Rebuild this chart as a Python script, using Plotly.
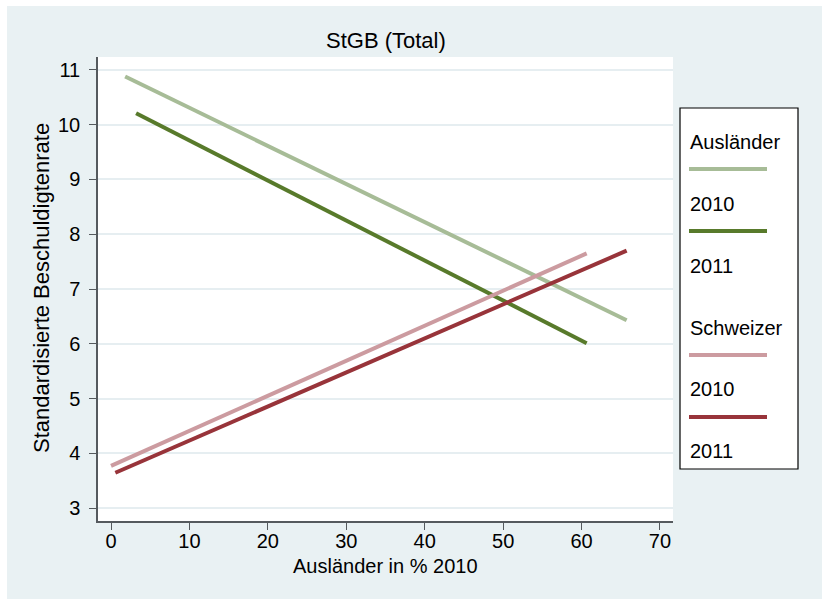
import plotly.graph_objects as go

# ---- data ----
x_label = "Ausländer in % 2010"
y_label = "Standardisierte Beschuldigtenrate"
title = "StGB (Total)"

aus_2010_x = [1.8, 65.75]
aus_2010_y = [10.88, 6.43]
aus_2011_x = [3.2, 60.65]
aus_2011_y = [10.21, 6.01]
sch_2010_x = [0.0, 60.65]
sch_2010_y = [3.77, 7.65]
sch_2011_x = [0.55, 65.75]
sch_2011_y = [3.645, 7.70]

x_ticks = [0, 10, 20, 30, 40, 50, 60, 70]
y_ticks = [3, 4, 5, 6, 7, 8, 9, 10, 11]

legend_groups = ["Ausländer", "Schweizer"]
legend_years = ["2010", "2011"]

# ---- styles ----
C_AUS10 = "#a7bc97"
C_AUS11 = "#587a2b"
C_SCH10 = "#cc9ba0"
C_SCH11 = "#98343a"
BG = "#e9f1f3"
FONT = "Liberation Sans, Arial, Helvetica, sans-serif"
FS = 20

W, H = 822, 599
L, R, T, B = 98, 673, 57, 521  # plot area in pixels


def px(x):
    return (x - L) / (R - L)


def py(y):
    return (B - y) / (B - T)


fig = go.Figure()
series = [
    (aus_2010_x, aus_2010_y, C_AUS10),
    (aus_2011_x, aus_2011_y, C_AUS11),
    (sch_2010_x, sch_2010_y, C_SCH10),
    (sch_2011_x, sch_2011_y, C_SCH11),
]
for xs, ys, c in series:
    fig.add_trace(go.Scatter(x=xs, y=ys, mode="lines",
                             line=dict(color=c, width=4),
                             showlegend=False, hoverinfo="skip"))

shapes = []
annotations = []

# white outer border strips (top and left)
shapes.append(dict(type="rect", xref="paper", yref="paper",
                   x0=px(0), x1=px(W), y0=py(6), y1=py(0),
                   fillcolor="white", line=dict(width=0), layer="above"))
shapes.append(dict(type="rect", xref="paper", yref="paper",
                   x0=px(0), x1=px(7), y0=py(H), y1=py(0),
                   fillcolor="white", line=dict(width=0), layer="above"))

# legend box
shapes.append(dict(type="rect", xref="paper", yref="paper",
                   x0=px(680), x1=px(798), y0=py(469), y1=py(108),
                   fillcolor="white", line=dict(color="black", width=1.2)))

legend_colors = {("Ausländer", "2010"): C_AUS10, ("Ausländer", "2011"): C_AUS11,
                 ("Schweizer", "2010"): C_SCH10, ("Schweizer", "2011"): C_SCH11}
group_text_y = [142, 327.5]
line_y = [[169, 231], [355, 417]]
year_text_y = [[204, 266], [389, 451]]
for gi, g in enumerate(legend_groups):
    annotations.append(dict(text=g, xref="paper", yref="paper",
                            x=px(688), y=py(group_text_y[gi]),
                            xanchor="left", yanchor="middle", showarrow=False,
                            font=dict(family=FONT, size=FS, color="black")))
    for yi, yr in enumerate(legend_years):
        shapes.append(dict(type="line", xref="paper", yref="paper",
                           x0=px(689), x1=px(767),
                           y0=py(line_y[gi][yi]), y1=py(line_y[gi][yi]),
                           line=dict(color=legend_colors[(g, yr)], width=4)))
        annotations.append(dict(text=yr, xref="paper", yref="paper",
                                x=px(688), y=py(year_text_y[gi][yi]),
                                xanchor="left", yanchor="middle", showarrow=False,
                                font=dict(family=FONT, size=FS, color="black")))

# titles
annotations.append(dict(text=title, xref="paper", yref="paper",
                        x=0.5, y=py(41), xanchor="center", yanchor="middle",
                        showarrow=False, font=dict(family=FONT, size=22, color="black")))
annotations.append(dict(text=x_label, xref="paper", yref="paper",
                        x=0.5, y=py(566), xanchor="center", yanchor="middle",
                        showarrow=False, font=dict(family=FONT, size=FS, color="black")))
annotations.append(dict(text=y_label, xref="paper", yref="paper",
                        x=px(41), y=py(288), xanchor="center", yanchor="middle",
                        textangle=-90, showarrow=False,
                        font=dict(family=FONT, size=22, color="black")))

axis_common = dict(showline=True, linecolor="#555a5e", linewidth=1.5,
                   ticks="outside", ticklen=7, tickwidth=1.2, tickcolor="#555a5e",
                   tickfont=dict(family=FONT, size=FS, color="black"),
                   zeroline=False, fixedrange=True)

fig.update_layout(
    width=W, height=H,
    margin=dict(l=L, r=W - R, t=T, b=H - B, pad=0),
    paper_bgcolor=BG, plot_bgcolor="white",
    showlegend=False,
    shapes=shapes, annotations=annotations,
    xaxis=dict(range=[-1.66, 71.66], tickvals=x_ticks, showgrid=False,
               ticklabelstandoff=-6, **axis_common),
    yaxis=dict(range=[2.763, 11.237], tickvals=y_ticks, showgrid=True,
               gridcolor="#e6eef1", gridwidth=1.5, ticklabelstandoff=5,
               **axis_common),
)

fig.write_html("out.html")
